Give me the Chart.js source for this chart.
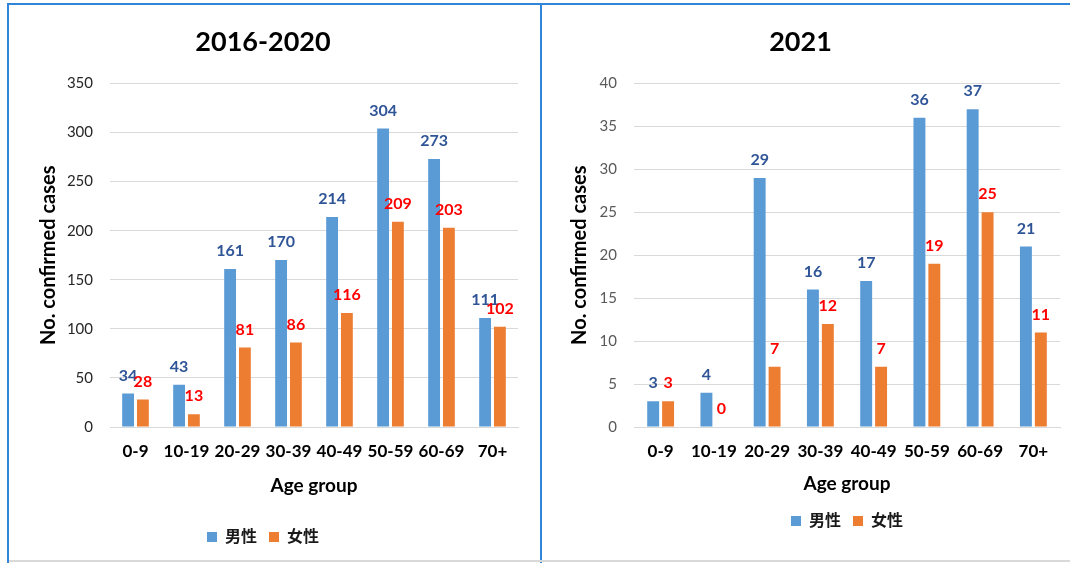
<!DOCTYPE html>
<html>
<head>
<meta charset="utf-8">
<script src="https://cdn.jsdelivr.net/npm/chart.js@4.4.0/dist/chart.umd.min.js"></script>
<style>
  html, body { margin: 0; padding: 0; background: #fff; }
  body { width: 1070px; height: 563px; position: relative; overflow: hidden; }
  .line { position: absolute; }
  #c1 { position: absolute; left: 8px; top: 4px; }
  #c2 { position: absolute; left: 541px; top: 4px; }
</style>
</head>
<body>
<div class="line" style="left:7px;top:3px;width:1063px;height:2px;background:#2f86d8"></div>
<div class="line" style="left:7px;top:3px;width:2px;height:560px;background:#2f86d8"></div>
<div class="line" style="left:540px;top:3px;width:2px;height:560px;background:#2f86d8"></div>
<div class="line" style="left:9px;top:560px;width:1061px;height:2px;background:#d9d9d9"></div>
<canvas id="c1" width="532" height="557"></canvas>
<canvas id="c2" width="529" height="557"></canvas>
<script>
// data
var ageGroups = ['0-9', '10-19', '20-29', '30-39', '40-49', '50-59', '60-69', '70+'];
var male1620 = [34, 43, 161, 170, 214, 304, 273, 111];
var female1620 = [28, 13, 81, 86, 116, 209, 203, 102];
var male2021 = [3, 4, 29, 16, 17, 36, 37, 21];
var female2021 = [3, 0, 7, 12, 7, 19, 25, 11];

var seriesNames = ['男性', '女性'];
var BLUE = '#5b9bd5', ORANGE = '#ed7d31';
var FONT = "Lato, 'Noto Sans CJK TC', sans-serif";

// value labels above each bar
var valueLabels = {
    id: 'valueLabels',
    afterDatasetsDraw: function (chart) {
        var ctx = chart.ctx;
        chart.data.datasets.forEach(function (ds, i) {
            var meta = chart.getDatasetMeta(i);
            ctx.save();
            ctx.font = 'bold 16px ' + FONT;
            ctx.fillStyle = i === 0 ? '#2f5597' : '#ff0000';
            ctx.textAlign = 'center';
            ctx.textBaseline = 'middle';
            meta.data.forEach(function (bar, j) {
                ctx.fillText(ds.data[j], bar.x, bar.y - 18);
            });
            ctx.restore();
        });
    }
};

function makeChart(id, opt) {
    return new Chart(document.getElementById(id), {
        type: 'bar',
        data: {
            labels: ageGroups,
            datasets: [{
                label: seriesNames[0],
                data: opt.male,
                backgroundColor: BLUE,
                categoryPercentage: opt.cat,
                barPercentage: 0.8
            }, {
                label: seriesNames[1],
                data: opt.female,
                backgroundColor: ORANGE,
                categoryPercentage: opt.cat,
                barPercentage: 0.8
            }]
        },
        plugins: [valueLabels],
        options: {
            responsive: false,
            animation: false,
            layout: { padding: { left: 0, right: opt.padRight, top: 0, bottom: opt.padBottom } },
            plugins: {
                title: {
                    display: true,
                    text: opt.title,
                    color: '#000',
                    font: { family: FONT, size: 27, weight: 'bold' },
                    padding: { top: 22, bottom: 25 }
                },
                legend: {
                    position: 'bottom',
                    fullSize: opt.legendFull,
                    labels: {
                        boxWidth: 10,
                        boxHeight: 10,
                        padding: 12,
                        color: '#1a1a1a',
                        font: { family: FONT, size: 16, weight: 'bold' }
                    }
                },
                tooltip: { enabled: false }
            },
            scales: {
                x: {
                    grid: { display: false, drawTicks: false },
                    border: { display: true, color: '#d9d9d9', width: 1 },
                    ticks: {
                        color: '#000',
                        padding: 14,
                        autoSkip: false,
                        minRotation: 0,
                        maxRotation: 0,
                        font: { family: FONT, size: 17, weight: 'bold' }
                    },
                    title: {
                        display: true,
                        text: 'Age group',
                        color: '#000',
                        font: { family: FONT, size: 19, weight: 'bold' },
                        padding: { top: 0, bottom: opt.xTitlePad }
                    },
                    afterFit: function (scale) { scale.height = opt.xHeight; }
                },
                y: {
                    min: 0,
                    max: opt.max,
                    grid: { color: '#d9d9d9', drawTicks: false },
                    border: { display: false },
                    ticks: {
                        stepSize: opt.step,
                        padding: 17,
                        color: opt.tickColor,
                        font: { family: FONT, size: 15 }
                    },
                    title: {
                        display: true,
                        text: 'No. confirmed cases',
                        color: '#000',
                        font: { family: FONT, size: 20, weight: 'bold' },
                        padding: { top: opt.yTitlePad, bottom: 0 }
                    },
                    afterFit: function (scale) { scale.width = opt.yWidth; }
                }
            }
        }
    });
}

// left: 2016-2020
makeChart('c1', {
    title: '2016-2020',
    male: male1620,
    female: female1620,
    max: 350, step: 50,
    cat: 0.58,
    yWidth: 102, yTitlePad: 29,
    xHeight: 90, xTitlePad: 20,
    padRight: 22, padBottom: 6,
    legendFull: true,
    tickColor: '#262626'
});

// right: 2021
makeChart('c2', {
    title: '2021',
    male: male2021,
    female: female2021,
    max: 40, step: 5,
    cat: 0.56,
    yWidth: 93, yTitlePad: 27,
    xHeight: 74, xTitlePad: 6,
    padRight: 10, padBottom: 22,
    legendFull: false,
    tickColor: '#595959'
});
</script>
</body>
</html>
